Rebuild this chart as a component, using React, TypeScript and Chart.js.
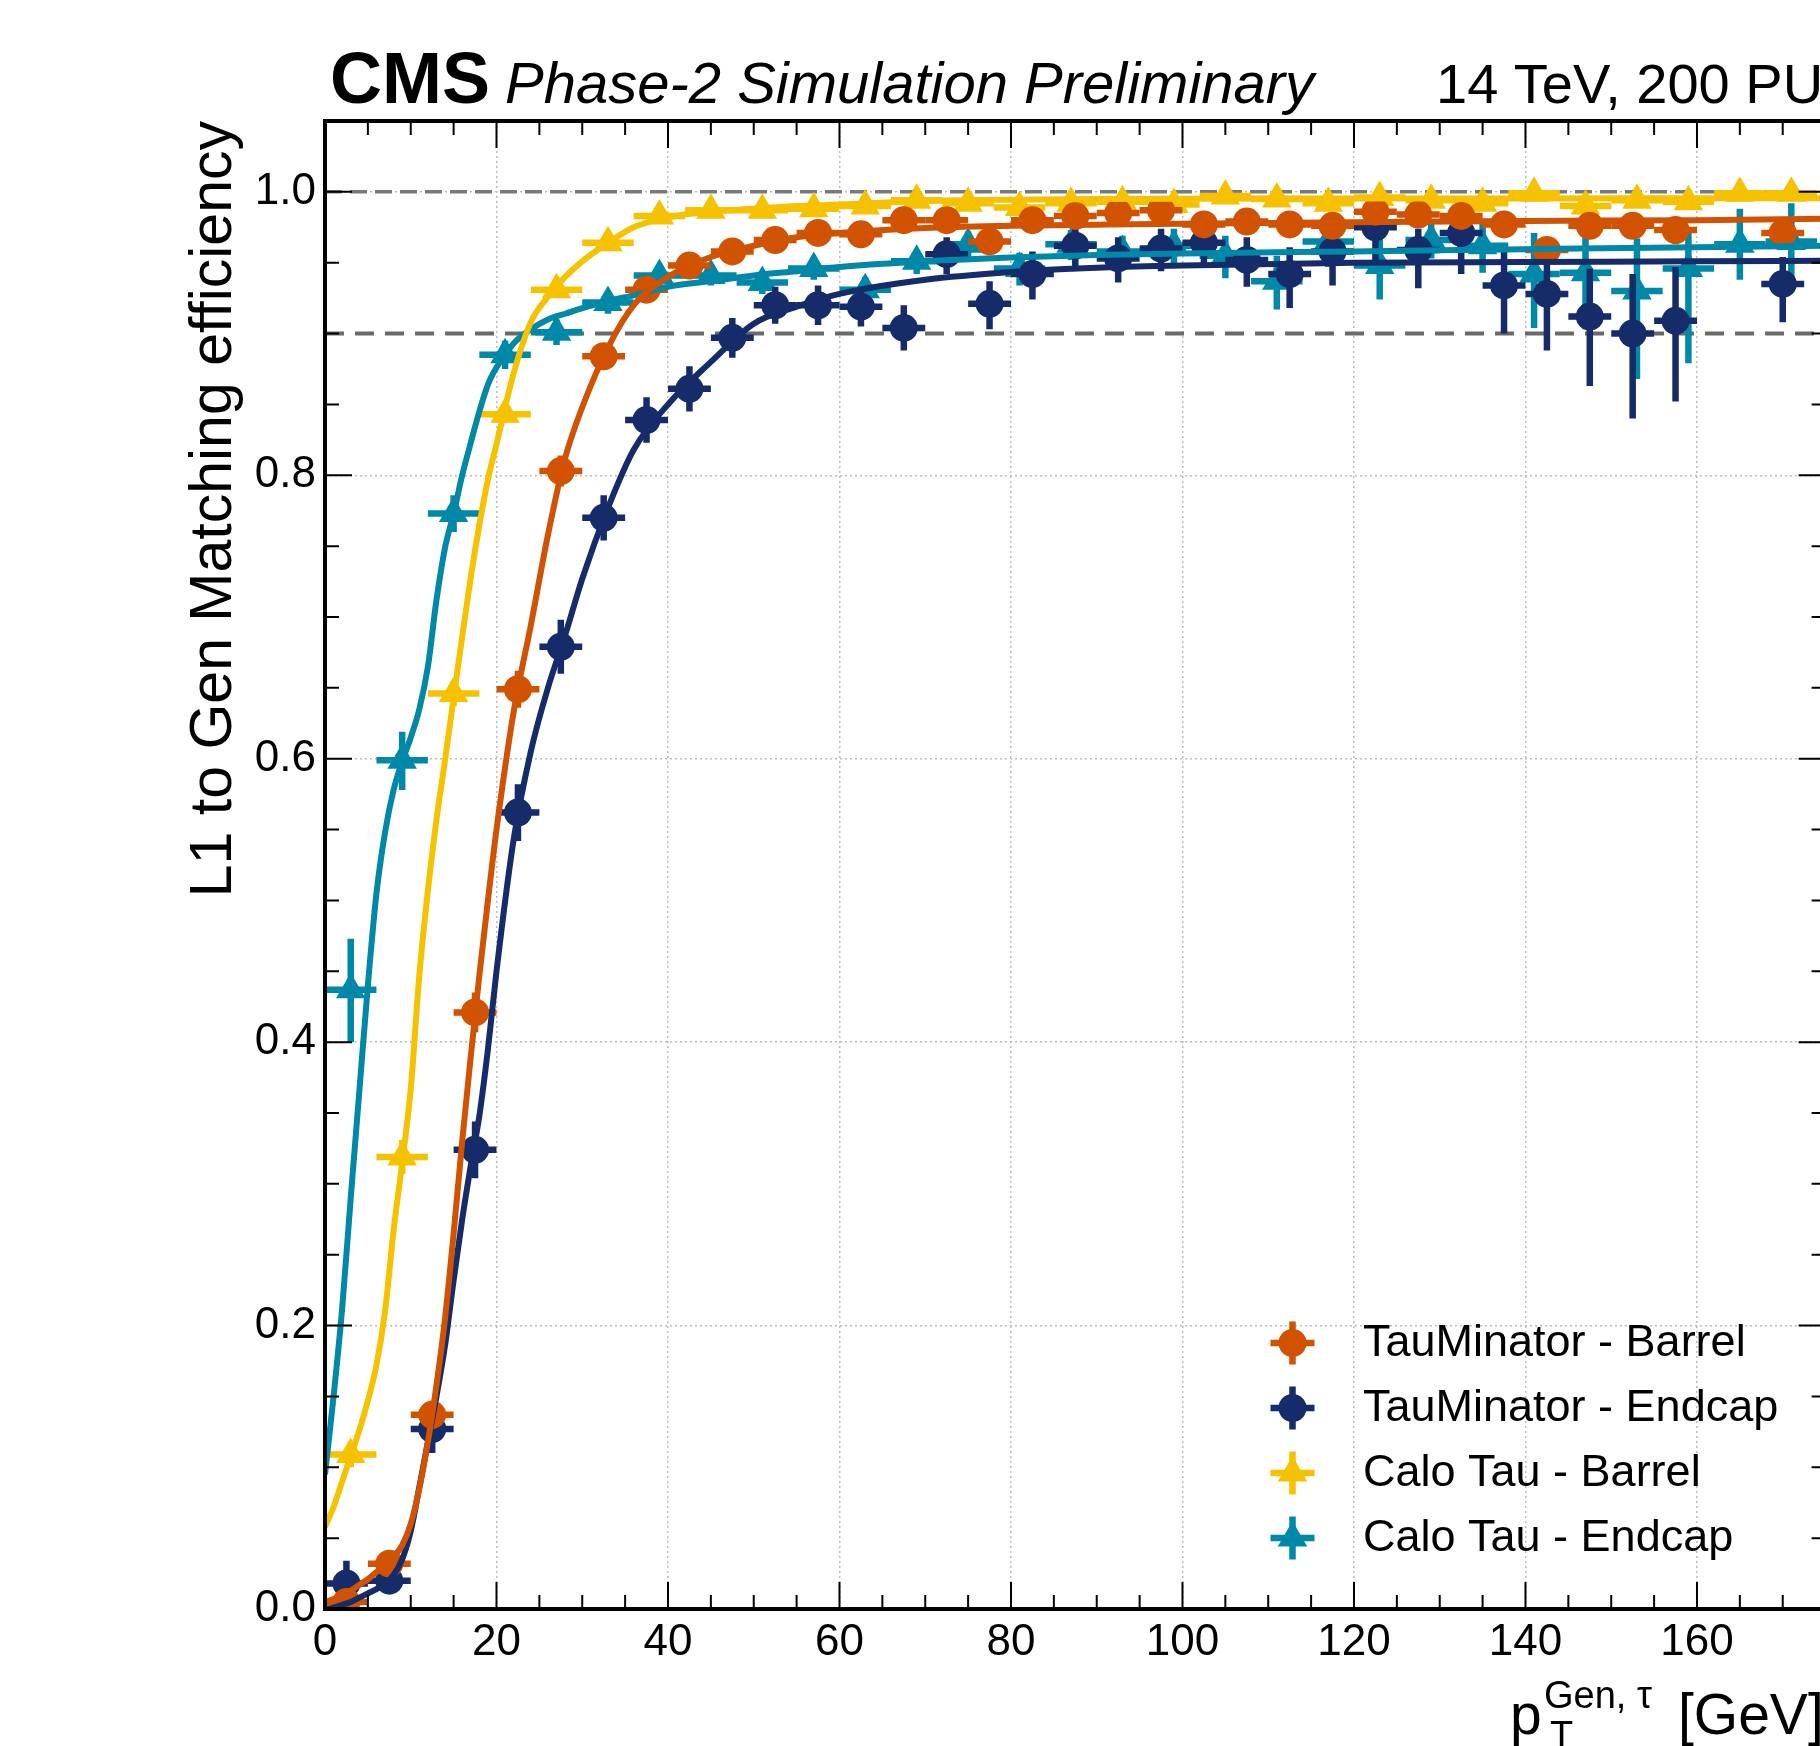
import { useEffect, useRef } from "react";
import { Chart, registerables } from "chart.js";

Chart.register(...registerables);

const FONT = "'Liberation Sans', Arial, Helvetica, sans-serif";
const CANVAS_W = 1900;
const CANVAS_H = 1746;

// ---------- axes ----------
const X_MIN = 0;
const X_MAX = 175;
const Y_MIN = 0;
const Y_MAX = 1.05;
const X_TICKS = [0, 20, 40, 60, 80, 100, 120, 140, 160];
const X_TICK_LABELS = ["0", "20", "40", "60", "80", "100", "120", "140", "160"];
const Y_TICKS = [0, 0.2, 0.4, 0.6, 0.8, 1.0];
const Y_TICK_LABELS = ["0.0", "0.2", "0.4", "0.6", "0.8", "1.0"];
const X_MINOR_STEP = 5;
const Y_MINOR_STEP = 0.05;
const REF_LINES = [1.0, 0.9];

// ---------- TauMinator (5 GeV bins) ----------
const TM_X = [2.5, 7.5, 12.5, 17.5, 22.5, 27.5, 32.5, 37.5, 42.5, 47.5, 52.5, 57.5, 62.5, 67.5, 72.5, 77.5, 82.5, 87.5, 92.5, 97.5, 102.5, 107.5, 112.5, 117.5, 122.5, 127.5, 132.5, 137.5, 142.5, 147.5, 152.5, 157.5, 170];
const TM_XERR = 2.5;

const TM_BARREL_EFF = [0.005, 0.032, 0.137, 0.421, 0.649, 0.803, 0.884, 0.931, 0.948, 0.958, 0.966, 0.971, 0.970, 0.980, 0.980, 0.965, 0.980, 0.983, 0.985, 0.987, 0.977, 0.979, 0.977, 0.976, 0.986, 0.984, 0.983, 0.977, 0.959, 0.976, 0.976, 0.973, 0.971];
const TM_BARREL_LO = [0.004, 0.006, 0.010, 0.014, 0.013, 0.011, 0.009, 0.007, 0.006, 0.005, 0.005, 0.005, 0.005, 0.005, 0.005, 0.006, 0.005, 0.005, 0.005, 0.005, 0.006, 0.006, 0.007, 0.007, 0.006, 0.007, 0.007, 0.008, 0.010, 0.009, 0.009, 0.010, 0.008];
const TM_BARREL_HI = [0.005, 0.007, 0.010, 0.014, 0.013, 0.011, 0.009, 0.007, 0.006, 0.005, 0.005, 0.005, 0.005, 0.004, 0.004, 0.006, 0.004, 0.004, 0.004, 0.004, 0.005, 0.005, 0.006, 0.006, 0.005, 0.006, 0.006, 0.007, 0.009, 0.008, 0.008, 0.009, 0.007];

const TM_ENDCAP_EFF = [0.018, 0.020, 0.127, 0.324, 0.562, 0.679, 0.770, 0.839, 0.861, 0.897, 0.920, 0.920, 0.919, 0.904, 0.956, 0.921, 0.942, 0.962, 0.953, 0.960, 0.964, 0.952, 0.942, 0.958, 0.975, 0.959, 0.971, 0.934, 0.928, 0.912, 0.900, 0.909, 0.935];
const TM_ENDCAP_LO = [0.011, 0.008, 0.017, 0.020, 0.020, 0.019, 0.016, 0.016, 0.016, 0.014, 0.013, 0.014, 0.014, 0.016, 0.014, 0.018, 0.018, 0.015, 0.017, 0.016, 0.016, 0.019, 0.024, 0.024, 0.025, 0.027, 0.029, 0.034, 0.040, 0.049, 0.060, 0.057, 0.027];
const TM_ENDCAP_HI = [0.016, 0.011, 0.017, 0.020, 0.020, 0.019, 0.016, 0.016, 0.016, 0.014, 0.013, 0.014, 0.014, 0.016, 0.012, 0.016, 0.016, 0.012, 0.015, 0.014, 0.014, 0.016, 0.019, 0.018, 0.010, 0.015, 0.013, 0.024, 0.021, 0.034, 0.042, 0.038, 0.019];

// ---------- Calo Tau (6 GeV bins) ----------
const CALO_X = [3, 9, 15, 21, 27, 33, 39, 45, 51, 57, 63, 69, 75, 81, 87, 93, 99, 105, 111, 117, 123, 129, 135, 141, 147, 153, 159, 165, 171];
const CALO_XERR = 3;

const CALO_BARREL_EFF = [0.109, 0.319, 0.646, 0.843, 0.931, 0.964, 0.983, 0.987, 0.987, 0.988, 0.990, 0.994, 0.992, 0.989, 0.992, 0.993, 0.991, 0.997, 0.995, 0.992, 0.996, 0.994, 0.992, 0.999, 0.990, 0.994, 0.993, 0.999, 0.999];
const CALO_BARREL_LO = [0.009, 0.012, 0.009, 0.006, 0.004, 0.003, 0.003, 0.002, 0.002, 0.002, 0.002, 0.002, 0.002, 0.003, 0.003, 0.003, 0.003, 0.002, 0.003, 0.003, 0.003, 0.004, 0.004, 0.002, 0.005, 0.004, 0.005, 0.002, 0.002];
const CALO_BARREL_HI = [0.009, 0.012, 0.009, 0.006, 0.004, 0.003, 0.002, 0.002, 0.002, 0.002, 0.002, 0.002, 0.002, 0.003, 0.002, 0.002, 0.003, 0.002, 0.002, 0.003, 0.002, 0.003, 0.003, 0.001, 0.004, 0.003, 0.004, 0.001, 0.001];

const CALO_ENDCAP_EFF = [0.437, 0.599, 0.773, 0.885, 0.901, 0.922, 0.941, 0.941, 0.936, 0.946, 0.931, 0.951, 0.963, 0.946, 0.963, 0.958, 0.962, 0.955, 0.937, 0.965, 0.948, 0.966, 0.962, 0.942, 0.943, 0.930, 0.946, 0.963, 0.965];
const CALO_ENDCAP_LO = [0.037, 0.021, 0.013, 0.010, 0.009, 0.008, 0.007, 0.007, 0.008, 0.008, 0.009, 0.009, 0.010, 0.012, 0.011, 0.013, 0.014, 0.016, 0.020, 0.018, 0.024, 0.013, 0.019, 0.038, 0.040, 0.062, 0.067, 0.025, 0.027];
const CALO_ENDCAP_HI = [0.036, 0.020, 0.013, 0.010, 0.009, 0.008, 0.007, 0.007, 0.008, 0.008, 0.009, 0.008, 0.009, 0.011, 0.010, 0.011, 0.012, 0.014, 0.018, 0.015, 0.020, 0.012, 0.019, 0.029, 0.030, 0.037, 0.025, 0.025, 0.027];

// ---------- fitted turn-on curves ----------
const FIT_X = [0, 1, 2, 3, 4, 5, 6, 7, 8, 9, 10, 11, 12, 13, 14, 15, 16, 17, 18, 19, 20, 22, 24, 26, 28, 30, 33, 36, 40, 45, 50, 55, 60, 70, 80, 90, 100, 120, 140, 160, 175];
const FIT_TM_BARREL = [0.005, 0.007, 0.010, 0.013, 0.017, 0.021, 0.026, 0.031, 0.037, 0.045, 0.060, 0.085, 0.118, 0.158, 0.205, 0.265, 0.330, 0.390, 0.447, 0.500, 0.550, 0.633, 0.694, 0.758, 0.812, 0.848, 0.890, 0.920, 0.940, 0.954, 0.962, 0.968, 0.971, 0.9745, 0.976, 0.9768, 0.9775, 0.9785, 0.9795, 0.980, 0.981];
const FIT_TM_ENDCAP = [0.000, 0.001, 0.003, 0.005, 0.008, 0.011, 0.014, 0.018, 0.024, 0.035, 0.055, 0.086, 0.118, 0.150, 0.186, 0.232, 0.275, 0.313, 0.348, 0.395, 0.450, 0.543, 0.605, 0.650, 0.687, 0.727, 0.777, 0.818, 0.850, 0.880, 0.907, 0.919, 0.928, 0.938, 0.9435, 0.9465, 0.948, 0.950, 0.9505, 0.951, 0.9514];
const FIT_CALO_BARREL = [0.058, 0.072, 0.090, 0.108, 0.126, 0.147, 0.172, 0.210, 0.267, 0.315, 0.367, 0.447, 0.507, 0.557, 0.599, 0.643, 0.686, 0.728, 0.765, 0.797, 0.822, 0.872, 0.908, 0.926, 0.940, 0.951, 0.964, 0.975, 0.982, 0.986, 0.988, 0.990, 0.991, 0.9935, 0.9945, 0.995, 0.9952, 0.9953, 0.9954, 0.9955, 0.9955];
const FIT_CALO_ENDCAP = [0.095, 0.150, 0.212, 0.290, 0.365, 0.440, 0.505, 0.548, 0.578, 0.598, 0.615, 0.635, 0.665, 0.712, 0.749, 0.773, 0.800, 0.823, 0.845, 0.864, 0.876, 0.893, 0.903, 0.910, 0.914, 0.918, 0.923, 0.927, 0.933, 0.937, 0.941, 0.944, 0.947, 0.951, 0.9537, 0.9555, 0.9565, 0.958, 0.9595, 0.961, 0.962];

// ---------- styles ----------
const ORANGE = "#d15200";
const NAVY = "#162b69";
const YELLOW = "#f6c200";
const TEAL = "#0088a9";

type Series = {
  label: string;
  color: string;
  marker: "circle" | "triangle";
  radius: number;
  x: number[];
  xErr: number;
  y: number[];
  lo: number[];
  hi: number[];
  fit: number[];
};

const SERIES: Series[] = [
  { label: "TauMinator - Barrel", color: ORANGE, marker: "circle", radius: 14, x: TM_X, xErr: TM_XERR, y: TM_BARREL_EFF, lo: TM_BARREL_LO, hi: TM_BARREL_HI, fit: FIT_TM_BARREL },
  { label: "TauMinator - Endcap", color: NAVY, marker: "circle", radius: 14, x: TM_X, xErr: TM_XERR, y: TM_ENDCAP_EFF, lo: TM_ENDCAP_LO, hi: TM_ENDCAP_HI, fit: FIT_TM_ENDCAP },
  { label: "Calo Tau - Barrel", color: YELLOW, marker: "triangle", radius: 17, x: CALO_X, xErr: CALO_XERR, y: CALO_BARREL_EFF, lo: CALO_BARREL_LO, hi: CALO_BARREL_HI, fit: FIT_CALO_BARREL },
  { label: "Calo Tau - Endcap", color: TEAL, marker: "triangle", radius: 17, x: CALO_X, xErr: CALO_XERR, y: CALO_ENDCAP_EFF, lo: CALO_ENDCAP_LO, hi: CALO_ENDCAP_HI, fit: FIT_CALO_ENDCAP },
];

// layout (pixels)
const PLOT_LEFT = 325;
const PLOT_TOP = 121;
const PLOT_BOTTOM = 1609;
const PLOT_RIGHT = 1825.6;

function drawMarker(ctx: CanvasRenderingContext2D, marker: string, x: number, y: number, r: number, color: string) {
  ctx.fillStyle = color;
  ctx.beginPath();
  if (marker === "circle") {
    ctx.arc(x, y, r, 0, Math.PI * 2);
  } else {
    let a = 0;
    ctx.moveTo(x + Math.sin(a) * r, y - Math.cos(a) * r);
    a += (2 * Math.PI) / 3;
    ctx.lineTo(x + Math.sin(a) * r, y - Math.cos(a) * r);
    a += (2 * Math.PI) / 3;
    ctx.lineTo(x + Math.sin(a) * r, y - Math.cos(a) * r);
    ctx.closePath();
  }
  ctx.fill();
}

const refLinePlugin = {
  id: "refLines",
  beforeDatasetsDraw(chart: any) {
    const { ctx, chartArea: ca, scales } = chart;
    ctx.save();
    REF_LINES.forEach((v, i) => {
      const py = scales.y.getPixelForValue(v);
      ctx.strokeStyle = i === 0 ? "#7a7a7a" : "#6a6a6a";
      ctx.lineWidth = i === 0 ? 3.5 : 4;
      ctx.setLineDash(i === 0 ? [17, 8] : [19, 11]);
      ctx.beginPath();
      ctx.moveTo(ca.left, py);
      ctx.lineTo(ca.right, py);
      ctx.stroke();
    });
    ctx.restore();
  },
};

const errorBarPlugin = {
  id: "errorBars",
  beforeDatasetDraw(chart: any, args: any) {
    const ds: any = chart.data.datasets[args.index];
    if (!ds.errLo) return;
    const { ctx, chartArea: ca, scales } = chart;
    const xs = scales.x;
    const ys = scales.y;
    ctx.save();
    ctx.beginPath();
    ctx.rect(ca.left, ca.top, ca.right - ca.left, ca.bottom - ca.top);
    ctx.clip();
    ctx.strokeStyle = ds.borderColor;
    ctx.lineWidth = 6.5;
    ctx.lineCap = "butt";
    ds.data.forEach((p: any, j: number) => {
      const px = xs.getPixelForValue(p.x);
      const py = ys.getPixelForValue(p.y);
      ctx.beginPath();
      ctx.moveTo(xs.getPixelForValue(p.x - ds.errX), py);
      ctx.lineTo(xs.getPixelForValue(p.x + ds.errX), py);
      ctx.moveTo(px, ys.getPixelForValue(p.y - ds.errLo[j]));
      ctx.lineTo(px, ys.getPixelForValue(p.y + ds.errHi[j]));
      ctx.stroke();
    });
    ctx.restore();
  },
};

const framePlugin = {
  id: "frame",
  afterDatasetsDraw(chart: any) {
    const { ctx, chartArea: ca, scales } = chart;
    ctx.save();
    ctx.strokeStyle = "#000";
    ctx.lineWidth = 2;
    const nx = Math.round((X_MAX - X_MIN) / X_MINOR_STEP);
    for (let i = 0; i <= nx; i++) {
      const v = X_MIN + i * X_MINOR_STEP;
      const major = X_TICKS.some((t) => Math.abs(t - v) < 1e-6);
      const len = major ? 27 : 14;
      const px = scales.x.getPixelForValue(v);
      ctx.beginPath();
      ctx.moveTo(px, ca.bottom);
      ctx.lineTo(px, ca.bottom - len);
      ctx.moveTo(px, ca.top);
      ctx.lineTo(px, ca.top + len);
      ctx.stroke();
    }
    const ny = Math.round((Y_MAX - Y_MIN) / Y_MINOR_STEP);
    for (let i = 0; i <= ny; i++) {
      const v = Y_MIN + i * Y_MINOR_STEP;
      const major = Y_TICKS.some((t) => Math.abs(t - v) < 1e-6);
      const len = major ? 27 : 14;
      const py = scales.y.getPixelForValue(v);
      ctx.beginPath();
      ctx.moveTo(ca.left, py);
      ctx.lineTo(ca.left + len, py);
      ctx.moveTo(ca.right, py);
      ctx.lineTo(ca.right - len, py);
      ctx.stroke();
    }
    ctx.lineWidth = 4;
    ctx.strokeRect(ca.left, ca.top, ca.right - ca.left, ca.bottom - ca.top);
    ctx.restore();
  },
};

const textPlugin = {
  id: "texts",
  afterDraw(chart: any) {
    const { ctx } = chart;
    ctx.save();
    ctx.fillStyle = "#000";
    ctx.textAlign = "left";
    ctx.textBaseline = "alphabetic";
    ctx.font = `bold 72px ${FONT}`;
    ctx.fillText("CMS", 330, 103);
    ctx.font = `italic 58px ${FONT}`;
    ctx.fillText("Phase-2 Simulation Preliminary", 505, 103);
    ctx.font = `56px ${FONT}`;
    ctx.fillText("14 TeV, 200 PU", 1436, 103);

    ctx.save();
    ctx.translate(231, PLOT_TOP);
    ctx.rotate(-Math.PI / 2);
    ctx.textAlign = "right";
    ctx.font = `59px ${FONT}`;
    ctx.fillText("L1 to Gen Matching efficiency", 0, 0);
    ctx.restore();

    ctx.font = `57px ${FONT}`;
    ctx.fillText("p", 1510, 1734);
    ctx.font = `38px ${FONT}`;
    ctx.fillText("Gen, \u03c4", 1544, 1708);
    ctx.fillText("T", 1550, 1748);
    ctx.font = `57px ${FONT}`;
    ctx.fillText("[GeV]", 1678, 1734);

    SERIES.forEach((s, i) => {
      const cy = 1343 + 65 * i;
      const cx = 1292.5;
      ctx.strokeStyle = s.color;
      ctx.lineWidth = 6.5;
      ctx.beginPath();
      ctx.moveTo(cx - 22, cy);
      ctx.lineTo(cx + 22, cy);
      ctx.moveTo(cx, cy - 21.5);
      ctx.lineTo(cx, cy + 21.5);
      ctx.stroke();
      drawMarker(ctx, s.marker, cx, cy, s.radius, s.color);
      ctx.fillStyle = "#000";
      ctx.font = `45px ${FONT}`;
      ctx.textBaseline = "middle";
      ctx.fillText(s.label, 1363, cy + 1);
      ctx.textBaseline = "alphabetic";
    });
    ctx.restore();
  },
};

export default function App() {
  const ref = useRef<HTMLCanvasElement | null>(null);

  useEffect(() => {
    const canvas = ref.current;
    if (!canvas) return;
    Chart.defaults.font.family = FONT;

    const pointSets = SERIES.map((s, i) => ({
      type: "scatter" as const,
      label: s.label,
      data: s.x.map((x, j) => ({ x, y: s.y[j] })),
      backgroundColor: s.color,
      borderColor: s.color,
      pointStyle: s.marker,
      pointRadius: s.radius,
      pointBorderWidth: 0,
      showLine: false,
      order: i + 1,
      errX: s.xErr,
      errLo: s.lo,
      errHi: s.hi,
    }));
    const fitSets = SERIES.map((s, i) => ({
      type: "line" as const,
      label: s.label + " fit",
      data: FIT_X.map((x, j) => ({ x, y: s.fit[j] })),
      borderColor: s.color,
      backgroundColor: s.color,
      borderWidth: 6,
      pointRadius: 0,
      fill: false,
      cubicInterpolationMode: "monotone" as const,
      order: -(SERIES.length - i),
    }));

    const chart = new Chart(canvas, {
      type: "scatter",
      data: { datasets: [...pointSets, ...fitSets] as any },
      options: {
        responsive: false,
        animation: false,
        devicePixelRatio: 1,
        events: [],
        layout: { padding: { left: 0, top: PLOT_TOP, right: CANVAS_W - PLOT_RIGHT, bottom: 0 } },
        plugins: { legend: { display: false }, tooltip: { enabled: false } },
        scales: {
          x: {
            type: "linear",
            min: X_MIN,
            max: X_MAX,
            afterFit: (s: any) => {
              s.height = CANVAS_H - PLOT_BOTTOM;
            },
            afterBuildTicks: (s: any) => {
              s.ticks = X_TICKS.map((v) => ({ value: v }));
            },
            grid: { color: "#bdbdbd", lineWidth: 1.5, drawTicks: false },
            border: { display: false, dash: [2, 3] },
            ticks: {
              color: "#000",
              font: { size: 44, family: FONT },
              padding: 7,
              maxRotation: 0,
              autoSkip: false,
              callback: (_v: any, i: number) => X_TICK_LABELS[i],
            },
          },
          y: {
            type: "linear",
            min: Y_MIN,
            max: Y_MAX,
            afterFit: (s: any) => {
              s.width = PLOT_LEFT;
            },
            afterBuildTicks: (s: any) => {
              s.ticks = Y_TICKS.map((v) => ({ value: v }));
            },
            grid: { color: "#bdbdbd", lineWidth: 1.5, drawTicks: false },
            border: { display: false, dash: [2, 3] },
            ticks: {
              color: "#000",
              font: { size: 44, family: FONT },
              padding: 9,
              autoSkip: false,
              callback: (_v: any, i: number) => Y_TICK_LABELS[i],
            },
          },
        },
      },
      plugins: [refLinePlugin, errorBarPlugin, framePlugin, textPlugin],
    });
    return () => chart.destroy();
  }, []);

  return (
    <div
      style={{
        position: "fixed",
        left: 0,
        top: 0,
        width: 1820,
        height: 1746,
        overflow: "hidden",
        background: "#fff",
      }}
    >
      <canvas
        ref={ref}
        width={CANVAS_W}
        height={CANVAS_H}
        style={{ position: "absolute", left: 0, top: 0, width: CANVAS_W, height: CANVAS_H }}
      />
    </div>
  );
}
